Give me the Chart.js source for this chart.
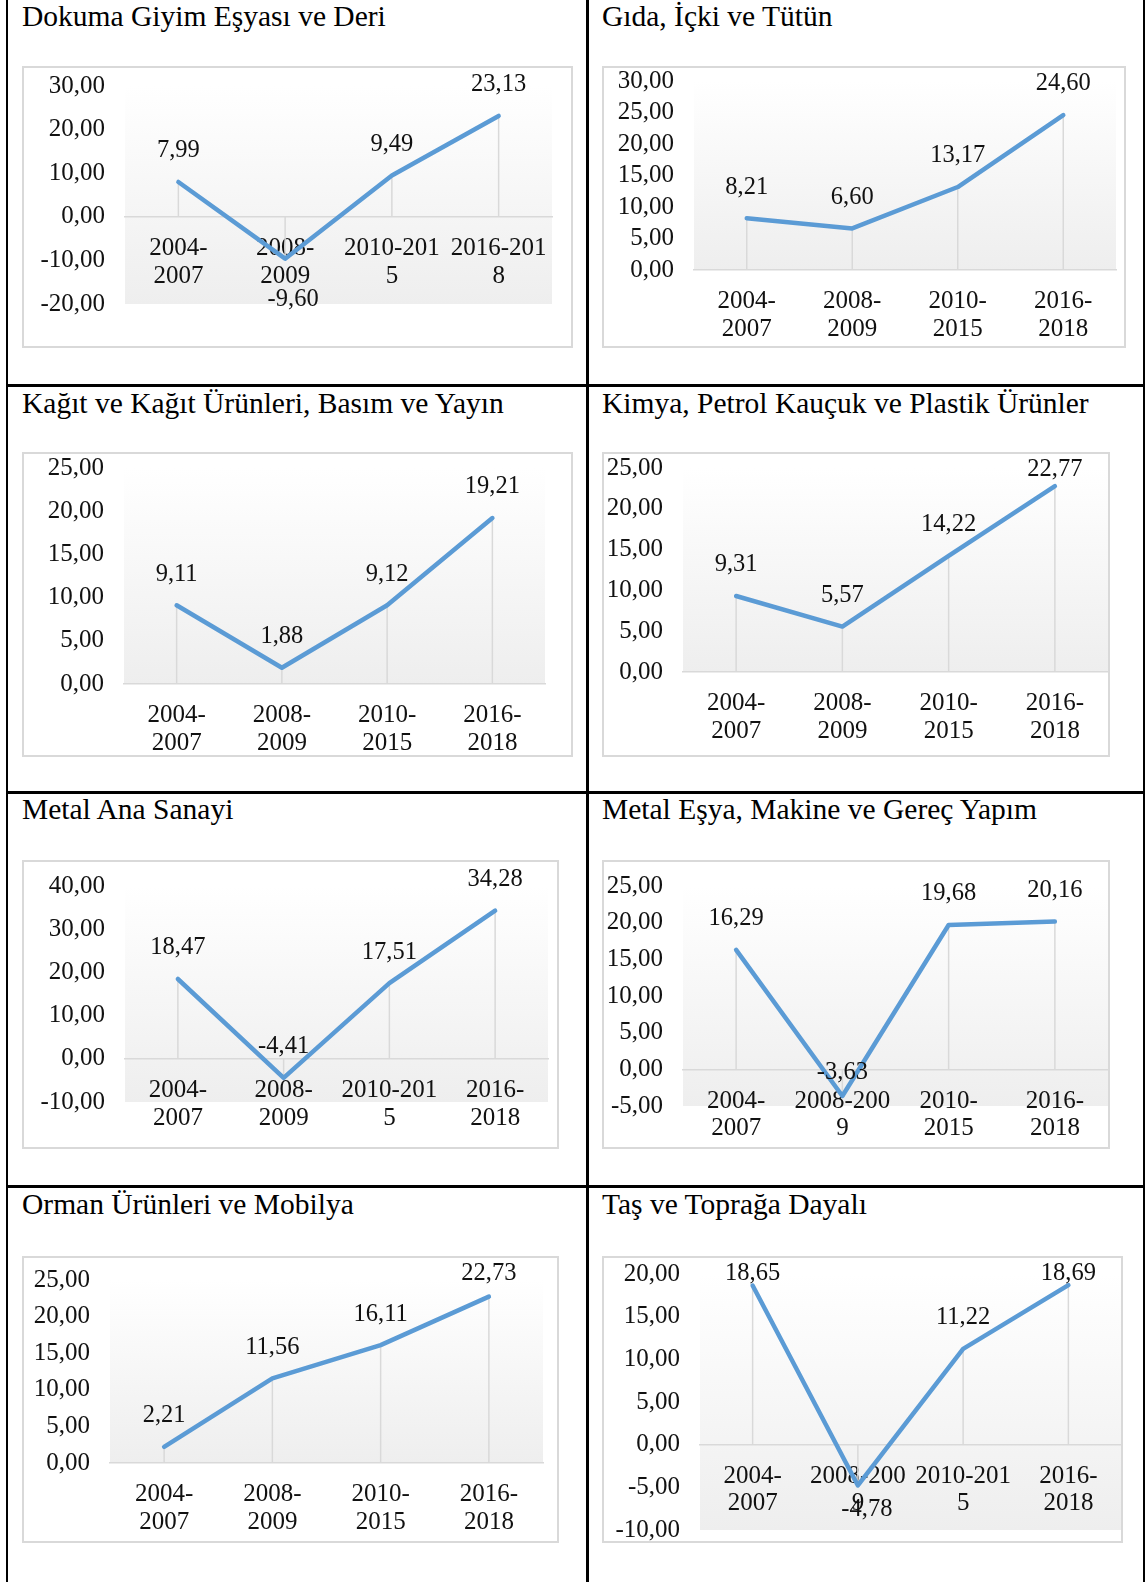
<!DOCTYPE html>
<html lang="tr">
<head>
<meta charset="utf-8">
<title>Sektörlere göre büyüme oranları</title>
<script src="https://cdn.jsdelivr.net/npm/chart.js@4.4.1/dist/chart.umd.min.js"></script>
<style>
  html, body { margin: 0; padding: 0; background: #fff; }
  body { width: 1146px; height: 1582px; position: relative; overflow: hidden;
         font-family: "Liberation Serif", "Times New Roman", serif; }
  .rule { position: absolute; background: #000; }
  .title { position: absolute; font-size: 29.5px; line-height: 28px; color: #000; white-space: nowrap; }
  .box { position: absolute; box-sizing: border-box; border: 2px solid #d9d9d9; }
  canvas { position: absolute; }
</style>
</head>
<body>
<script>
// period labels (Excel wraps some of them mid-word)
var periodLabels = [['2004-', '2007'], ['2008-', '2009'], ['2010-', '2015'], ['2016-', '2018']];
var dokumaLabels = [['2004-', '2007'], ['2008-', '2009'], ['2010-201', '5'], ['2016-201', '8']];
var metalAnaLabels = [['2004-', '2007'], ['2008-', '2009'], ['2010-201', '5'], ['2016-', '2018']];
var metalEsyaLabels = [['2004-', '2007'], ['2008-200', '9'], ['2010-', '2015'], ['2016-', '2018']];
var tasLabels = [['2004-', '2007'], ['2008-200', '9'], ['2010-201', '5'], ['2016-', '2018']];

// growth rates per sector (%)
var dokumaValues = [7.99, -9.60, 9.49, 23.13];
var gidaValues = [8.21, 6.60, 13.17, 24.60];
var kagitValues = [9.11, 1.88, 9.12, 19.21];
var kimyaValues = [9.31, 5.57, 14.22, 22.77];
var metalAnaValues = [18.47, -4.41, 17.51, 34.28];
var metalEsyaValues = [16.29, -3.63, 19.68, 20.16];
var ormanValues = [2.21, 11.56, 16.11, 22.73];
var tasValues = [18.65, -4.78, 11.22, 18.69];

// y axis ranges: [min, max, step]
var dokumaRange = [-20, 30, 10];
var gidaRange = [0, 30, 5];
var kagitRange = [0, 25, 5];
var kimyaRange = [0, 25, 5];
var metalAnaRange = [-10, 40, 10];
var metalEsyaRange = [-5, 25, 5];
var ormanRange = [0, 25, 5];
var tasRange = [-10, 20, 5];

var FONT = '"Liberation Serif", "Times New Roman", serif';

// page layout: title baseline, outer box, inner plot rectangle [left, top, right, bottom]
var panels = [
  { title: 'Dokuma Giyim Eşyası ve Deri', labels: dokumaLabels, values: dokumaValues, range: dokumaRange,
    tx: 22, ty: 26, box: [22, 66, 573, 348], plot: [125, 86, 552, 304], shift: { 1: [8, 41] } },
  { title: 'Gıda, İçki ve Tütün', labels: periodLabels, values: gidaValues, range: gidaRange,
    tx: 602, ty: 26, box: [602, 66, 1126, 348], plot: [694, 81, 1116, 270] },
  { title: 'Kağıt ve Kağıt Ürünleri, Basım ve Yayın', labels: periodLabels, values: kagitValues, range: kagitRange,
    tx: 22, ty: 413, box: [22, 452, 573, 757], plot: [124, 468, 545, 684] },
  { title: 'Kimya, Petrol Kauçuk ve Plastik Ürünler', labels: periodLabels, values: kimyaValues, range: kimyaRange,
    tx: 602, ty: 413, box: [602, 452, 1110, 757], plot: [683, 468, 1108, 672] },
  { title: 'Metal Ana Sanayi', labels: metalAnaLabels, values: metalAnaValues, range: metalAnaRange,
    tx: 22, ty: 819, box: [22, 860, 559, 1149], plot: [125, 886, 548, 1102] },
  { title: 'Metal Eşya, Makine ve Gereç Yapım', labels: metalEsyaLabels, values: metalEsyaValues, range: metalEsyaRange,
    tx: 602, ty: 819, box: [602, 860, 1110, 1149], plot: [683, 886, 1108, 1106], shift: { 1: [0, -23] } },
  { title: 'Orman Ürünleri ve Mobilya', labels: periodLabels, values: ormanValues, range: ormanRange,
    tx: 22, ty: 1214, box: [22, 1256, 559, 1543], plot: [110, 1280, 543, 1463] },
  { title: 'Taş ve Toprağa Dayalı', labels: tasLabels, values: tasValues, range: tasRange,
    tx: 602, ty: 1214, box: [602, 1256, 1123, 1543], plot: [700, 1274, 1121, 1530], shift: { 1: [9, 24] } }
];

function fmt(v) {
  return v.toFixed(2).replace('.', ',');
}

function addEl(cls, css, text) {
  var el = document.createElement('div');
  el.className = cls;
  Object.assign(el.style, css);
  if (text) el.textContent = text;
  document.body.appendChild(el);
  return el;
}

// table rules
addEl('rule', { left: '6px', top: '0px', width: '2px', height: '1582px' });
addEl('rule', { left: '586px', top: '0px', width: '3px', height: '1582px' });
addEl('rule', { left: '1143px', top: '0px', width: '2px', height: '1582px' });
[384, 791, 1185].forEach(function(y) {
  addEl('rule', { left: '6px', top: y + 'px', width: '1139px', height: '3px' });
});

// light gradient behind the plot area
var plotFill = {
  id: 'plotFill',
  beforeDraw: function(chart) {
    var ctx = chart.ctx, a = chart.chartArea;
    var g = ctx.createLinearGradient(0, a.top, 0, a.bottom);
    g.addColorStop(0, '#ffffff');
    g.addColorStop(1, '#eeeeee');
    ctx.save();
    ctx.fillStyle = g;
    ctx.fillRect(a.left, a.top, a.right - a.left, a.bottom - a.top);
    ctx.restore();
  }
};

// grey drop lines from each point to the category axis
var dropLines = {
  id: 'dropLines',
  beforeDatasetsDraw: function(chart) {
    var ctx = chart.ctx;
    var y0 = chart.scales.y.getPixelForValue(0);
    ctx.save();
    ctx.strokeStyle = '#d9d9d9';
    ctx.lineWidth = 1.5;
    chart.getDatasetMeta(0).data.forEach(function(pt) {
      ctx.beginPath();
      ctx.moveTo(pt.x, pt.y);
      ctx.lineTo(pt.x, y0);
      ctx.stroke();
    });
    ctx.restore();
  }
};

// value labels above the points
var pointLabels = {
  id: 'pointLabels',
  afterDatasetsDraw: function(chart, args, opts) {
    var ctx = chart.ctx;
    var values = chart.data.datasets[0].data;
    var shift = opts.shift || {};
    ctx.save();
    ctx.font = '24.5px ' + FONT;
    ctx.fillStyle = '#111';
    ctx.textAlign = 'center';
    ctx.textBaseline = 'middle';
    chart.getDatasetMeta(0).data.forEach(function(pt, i) {
      var s = shift[i] || [0, -31];
      var y = Math.max(pt.y + s[1], 18);
      ctx.fillText(fmt(values[i]), pt.x + s[0], y);
    });
    ctx.restore();
  }
};

panels.forEach(function(p) {
  var bx = p.box[0], by = p.box[1], bw = p.box[2] - p.box[0], bh = p.box[3] - p.box[1];

  addEl('title', { left: p.tx + 'px', top: (p.ty - 24) + 'px' }, p.title);
  addEl('box', { left: bx + 'px', top: by + 'px', width: bw + 'px', height: bh + 'px' });

  var canvas = document.createElement('canvas');
  canvas.width = bw;
  canvas.height = bh;
  canvas.style.left = bx + 'px';
  canvas.style.top = by + 'px';
  canvas.style.width = bw + 'px';
  canvas.style.height = bh + 'px';
  document.body.appendChild(canvas);

  var yWidth = p.plot[0] - bx;

  new Chart(canvas.getContext('2d'), {
    type: 'line',
    data: {
      labels: p.labels,
      datasets: [{
        data: p.values,
        borderColor: '#5b9bd5',
        borderWidth: 4.5,
        borderCapStyle: 'round',
        borderJoinStyle: 'round',
        pointRadius: 0,
        pointHoverRadius: 0,
        tension: 0,
        fill: false
      }]
    },
    options: {
      responsive: false,
      animation: false,
      devicePixelRatio: 1,
      events: [],
      layout: {
        padding: {
          left: 0,
          top: p.plot[1] - by,
          right: p.box[2] - p.plot[2],
          bottom: p.box[3] - p.plot[3]
        }
      },
      plugins: {
        legend: { display: false },
        tooltip: { enabled: false },
        pointLabels: { shift: p.shift }
      },
      scales: {
        x: {
          type: 'category',
          offset: true,
          position: { y: 0 },
          grid: { display: false, drawTicks: false },
          border: { display: true, color: '#d9d9d9', width: 1.5 },
          ticks: {
            autoSkip: false,
            maxRotation: 0,
            padding: 18,
            color: '#111',
            font: { family: FONT, size: 25, lineHeight: 1.1 }
          },
          afterFit: function(scale) {
            scale.height = 0;
            scale.paddingLeft = 0;
            scale.paddingRight = 0;
          }
        },
        y: {
          min: p.range[0],
          max: p.range[1],
          grid: { display: false, drawTicks: false },
          border: { display: false },
          ticks: {
            stepSize: p.range[2],
            padding: 20,
            color: '#111',
            font: { family: FONT, size: 25, lineHeight: 1 },
            callback: function(v) { return fmt(v); }
          },
          afterFit: function(scale) {
            scale.width = yWidth;
            scale.paddingTop = 0;
            scale.paddingBottom = 0;
          }
        }
      }
    },
    plugins: [plotFill, dropLines, pointLabels]
  });
});
</script>
</body>
</html>
